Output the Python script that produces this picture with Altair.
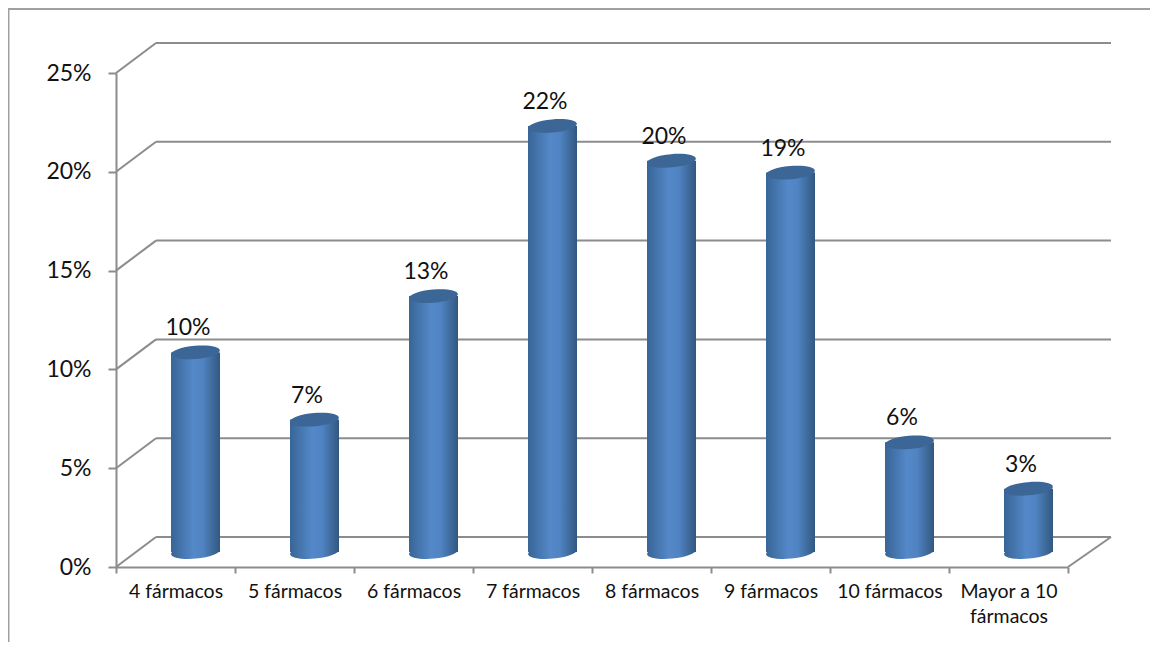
import altair as alt
import pandas as pd

categories = ["4 fármacos", "5 fármacos", "6 fármacos", "7 fármacos",
              "8 fármacos", "9 fármacos", "10 fármacos", "Mayor a 10 fármacos"]
values = [0.101, 0.067, 0.1295, 0.2156, 0.198, 0.192, 0.0555, 0.032]
ticks = [0, 0.05, 0.10, 0.15, 0.20, 0.25]

GREY = "#8c8c8c"
FONT = "Lato"
ELLIPSE = "M-1,0 A1,0.27 0 1 1 1,0 A1,0.27 0 1 1 -1,0 Z"

bars_df = pd.DataFrame({"cat": categories, "v": values})
ticks_df = pd.DataFrame({"t": ticks})

x = alt.X("cat:N", sort=categories, title=None,
          scale=alt.Scale(paddingInner=0, paddingOuter=0),
          axis=alt.Axis(labelAngle=0, labelFont=FONT, labelFontSize=19.5, labelColor="#111",
                        domainColor=GREY, domainWidth=2, tickColor=GREY, tickWidth=2, tickSize=6,
                        tickBand="extent", labelPadding=9, labelLimit=140, labelLineHeight=25,
                        labelExpr="datum.label == 'Mayor a 10 fármacos' ? ['Mayor a 10', 'fármacos'] : datum.label"))
y = alt.Y("v:Q", stack=None, title=None,
          scale=alt.Scale(domain=[0, 0.25], nice=False),
          axis=alt.Axis(values=ticks, format=".0%", grid=False, labelFont=FONT, labelFontSize=23,
                        labelColor="#111", domainColor=GREY, domainWidth=2, tickColor=GREY,
                        tickWidth=2, tickSize=8, labelPadding=17))
ty = alt.Y("t:Q", title=None)

back = alt.Chart(ticks_df).mark_rule(color=GREY, strokeWidth=2, yOffset=-30, y2Offset=-30).encode(
    y=ty, y2="t:Q", x=alt.value(40), x2=alt.value(995))
diag = alt.Chart(ticks_df).mark_rule(color=GREY, strokeWidth=2, y2Offset=-30).encode(
    y=ty, y2="t:Q", x=alt.value(0), x2=alt.value(40))
floor = alt.Chart(ticks_df[ticks_df.t == 0]).mark_rule(color=GREY, strokeWidth=2, y2Offset=-30).encode(
    y=ty, y2="t:Q", x=alt.value(952), x2=alt.value(995))

grad = alt.Gradient(gradient="linear", x1=0, x2=1, y1=0, y2=0, stops=[
    alt.GradientStop(offset=0, color="#386596"),
    alt.GradientStop(offset=0.45, color="#5488c8"),
    alt.GradientStop(offset=0.65, color="#4f83c2"),
    alt.GradientStop(offset=1, color="#32587f"),
])

bottoms = alt.Chart(bars_df).mark_point(
    shape=ELLIPSE, size=2401, filled=True, fill=grad, opacity=1, strokeWidth=0,
    angle=355, xOffset=20, yOffset=-15, clip=False
).encode(x=x, y=alt.Y("z:Q", title=None)).transform_calculate(z="0")
cyl = alt.Chart(bars_df).mark_bar(
    size=49, color=grad, xOffset=20, yOffset=-15, y2Offset=-15
).encode(x=x, y=y, y2=alt.datum(0))
tops = alt.Chart(bars_df).mark_point(
    shape=ELLIPSE, size=2401, filled=True, fill="#3c6696", opacity=1, strokeWidth=0,
    angle=355, xOffset=20, yOffset=-15
).encode(x=x, y=y)
labels = alt.Chart(bars_df).mark_text(
    font=FONT, fontSize=23, color="#111", xOffset=12.5, yOffset=-39, baseline="middle"
).encode(x=x, y=y, text=alt.Text("v:Q", format=".0%"))

frame_top = alt.Chart(ticks_df.head(1)).mark_rule(color="#a0a0a0", strokeWidth=2).encode(
    x=alt.value(-108), x2=alt.value(1034), y=alt.value(-64))
frame_left = alt.Chart(ticks_df.head(1)).mark_rule(color="#a0a0a0", strokeWidth=2).encode(
    x=alt.value(-107.5), y=alt.value(-65), y2=alt.value(569))

chart = alt.layer(frame_top, frame_left, back, diag, floor, bottoms, cyl, tops, labels).properties(
    width=952, height=494,
    autosize=alt.AutoSizeParams(type="none", contains="content"),
    padding={"left": 108, "top": 65, "right": 82, "bottom": 75},
    background="white",
).configure_view(stroke=None)

chart.save("out.html", embed_options={"renderer": "svg", "actions": False})
